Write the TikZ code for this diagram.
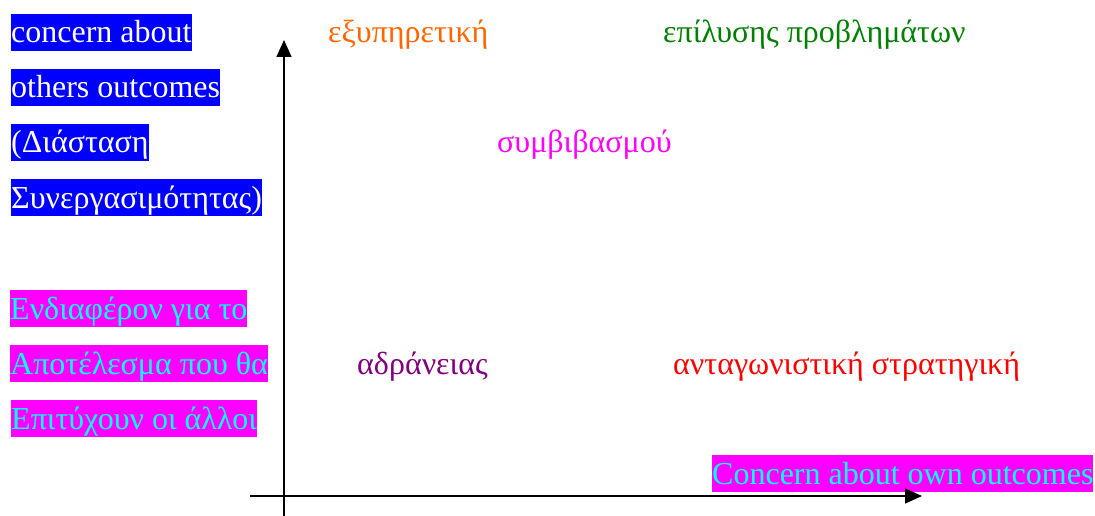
\documentclass[tikz,border=0pt]{standalone}
\usepackage{fontspec}
\setmainfont{Liberation Serif}
\usetikzlibrary{arrows.meta}
\definecolor{hlblue}{HTML}{0000FF}
\definecolor{hlmag}{HTML}{FF00FF}
\definecolor{txcyan}{HTML}{00FFFF}
\definecolor{txorange}{HTML}{FF6600}
\definecolor{txgreen}{HTML}{008000}
\definecolor{txpurple}{HTML}{800080}
\definecolor{txred}{HTML}{FF0000}
\tikzset{
  lbl/.style={anchor=base west, inner sep=0pt, font=\fontsize{32}{37}\selectfont},
  bluebox/.style={lbl, fill=hlblue, text=white, text height=29pt, text depth=8pt},
  magbox/.style={lbl, fill=hlmag, text=txcyan, text height=29pt, text depth=8pt},
  axis/.style={line width=1.6pt, -{Triangle[length=17pt,width=15pt]}},
}
\begin{document}
\begin{tikzpicture}[x=1pt,y=-1pt]
\useasboundingbox (0,0) rectangle (1095,516);
% left labels
\node[bluebox] (b1) at (11,43) {concern about};
\node[bluebox] (b2) at (11,98) {others outcomes};
\node[bluebox] (b3) at (11,153) {(Διάσταση};
\node[bluebox] (b4) at (11,208) {Συνεργασιμότητας)};
\node[magbox] (m1) at (10,319) {Ενδιαφέρον για το};
\node[magbox] (m2) at (10,374) {Αποτέλεσμα που θα};
\node[magbox] (m3) at (11,429) {Επιτύχουν οι άλλοι};
\node[magbox] (m4) at (712,484) {Concern about own outcomes};
% strategy labels
\node[lbl, text=txorange] (s1) at (328,43) {εξυπηρετική};
\node[lbl, text=txgreen] (s2) at (663,43) {επίλυσης προβλημάτων};
\node[lbl, text=hlmag] (s3) at (497,153) {συμβιβασμού};
\node[lbl, text=txpurple] (s4) at (357,374) {αδράνειας};
\node[lbl, text=txred] (s5) at (673,374) {ανταγωνιστική στρατηγική};
% axes
\coordinate (yb) at (284,516);
\coordinate (yt) at (284,40);
\coordinate (xl) at (250,496);
\coordinate (xr) at (922,496);
\draw[axis] (yb) -- (yt);
\draw[axis] (xl) -- (xr);
\end{tikzpicture}
\end{document}
